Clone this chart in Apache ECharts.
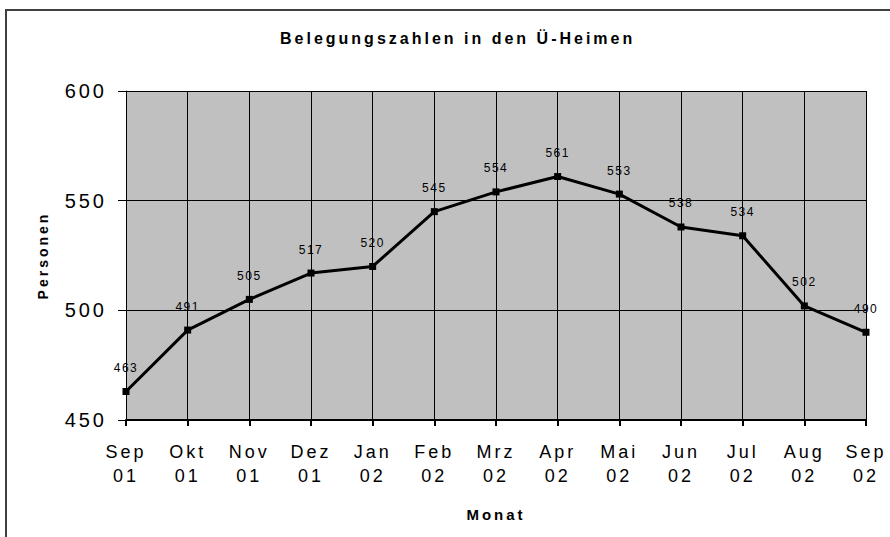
<!DOCTYPE html>
<html>
<head>
<meta charset="utf-8">
<script src="https://cdn.jsdelivr.net/npm/echarts@6/dist/echarts.min.js"></script>
<style>
  html, body { margin: 0; padding: 0; background: #fff; }
  #main { width: 890px; height: 537px; }
  /* die Vorlage hat gesperrte Schrift */
  #main svg text { letter-spacing: 3px; }
  #main svg text[style*="12px"] { letter-spacing: 1.5px; }
</style>
</head>
<body>
<div id="main"></div>
<script>
// Monate (zweizeilige Beschriftung) und Belegungszahlen
const monate = ['Sep\n01', 'Okt\n01', 'Nov\n01', 'Dez\n01', 'Jan\n02', 'Feb\n02', 'Mrz\n02',
  'Apr\n02', 'Mai\n02', 'Jun\n02', 'Jul\n02', 'Aug\n02', 'Sep\n02'];
const personen = [463, 491, 505, 517, 520, 545, 554, 561, 553, 538, 534, 502, 490];

const chart = echarts.init(document.getElementById('main'), null, { renderer: 'svg' });
const fontFam = '"Liberation Sans", Arial, sans-serif';

chart.setOption({
  animation: false,
  backgroundColor: '#fff',
  title: {
    text: 'Belegungszahlen in den Ü-Heimen',
    left: 275,
    top: 25,
    textStyle: { fontFamily: fontFam, fontSize: 16, fontWeight: 'bold', color: '#000' }
  },
  graphic: [
    {
      type: 'rect',
      shape: { x: 6, y: 10, width: 900, height: 560 },
      style: { fill: 'none', stroke: '#404040', lineWidth: 2 },
      silent: true
    }
  ],
  grid: { left: 126, right: 24, top: 91, bottom: 117, show: true, backgroundColor: '#c0c0c0', borderWidth: 0 },
  xAxis: {
    type: 'category',
    data: monate,
    boundaryGap: false,
    name: 'Monat',
    nameLocation: 'middle',
    nameGap: 87,
    nameTextStyle: { fontFamily: fontFam, fontSize: 15, fontWeight: 'bold', color: '#000' },
    axisLine: { lineStyle: { color: '#000', width: 2 } },
    axisTick: { alignWithLabel: true, length: 6, lineStyle: { color: '#000', width: 2 } },
    axisLabel: { fontFamily: fontFam, fontSize: 18, color: '#000', margin: 20, lineHeight: 24, interval: 0 },
    splitLine: { show: true, lineStyle: { color: '#000', width: 1 } }
  },
  yAxis: {
    type: 'value',
    min: 450,
    max: 600,
    interval: 50,
    name: 'Personen',
    nameLocation: 'middle',
    nameGap: 76,
    nameTextStyle: { fontFamily: fontFam, fontSize: 14, fontWeight: 'bold', color: '#000' },
    axisLine: { show: true, lineStyle: { color: '#000', width: 1 } },
    axisTick: { show: true, length: 8, lineStyle: { color: '#000' } },
    axisLabel: { fontFamily: fontFam, fontSize: 20, color: '#000', margin: 19 },
    splitLine: { show: true, lineStyle: { color: '#000', width: 1 } }
  },
  series: [
    {
      type: 'line',
      data: personen,
      symbol: 'rect',
      symbolSize: 7,
      lineStyle: { color: '#000', width: 3 },
      itemStyle: { color: '#000' },
      label: {
        show: true,
        position: 'top',
        distance: 14,
        fontFamily: fontFam,
        fontSize: 12,
        color: '#000'
      }
    }
  ]
});
</script>
</body>
</html>
